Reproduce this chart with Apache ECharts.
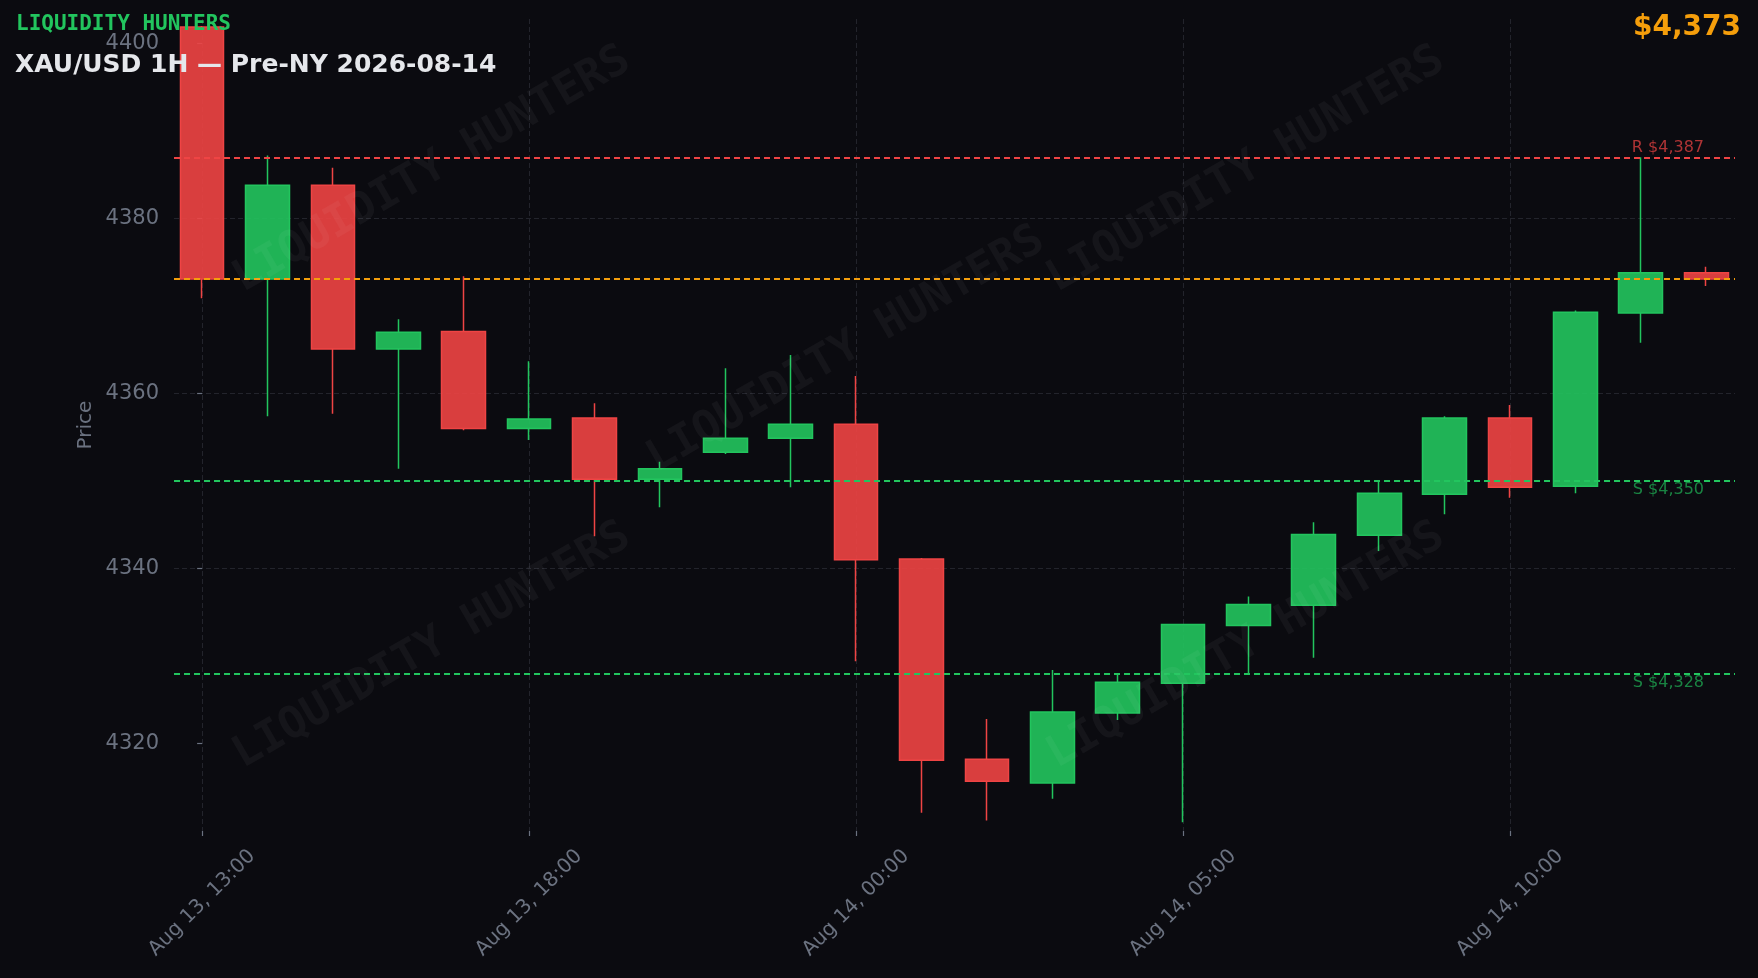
<!DOCTYPE html>
<html>
<head>
<meta charset="utf-8">
<script src="https://cdn.jsdelivr.net/npm/echarts@6/dist/echarts.min.js"></script>
<style>
  html, body { margin: 0; padding: 0; background: #0b0b10; }
  #chart { width: 1758px; height: 978px; }
</style>
</head>
<body>
<div id="chart"></div>
<script>
// ---- data ----
const categories = [
  "Aug 13, 13:00", "Aug 13, 14:00", "Aug 13, 15:00", "Aug 13, 16:00", "Aug 13, 17:00",
  "Aug 13, 18:00", "Aug 13, 19:00", "Aug 13, 20:00", "Aug 13, 21:00", "Aug 13, 23:00",
  "Aug 14, 00:00", "Aug 14, 01:00", "Aug 14, 02:00", "Aug 14, 03:00", "Aug 14, 04:00",
  "Aug 14, 05:00", "Aug 14, 06:00", "Aug 14, 07:00", "Aug 14, 08:00", "Aug 14, 09:00",
  "Aug 14, 10:00", "Aug 14, 11:00", "Aug 14, 12:00", "Aug 14, 13:00"
];
const open  = [4401.9, 4373.1, 4383.8, 4365.1, 4367.1, 4356.0, 4357.2, 4350.2, 4353.3, 4354.9,
               4356.5, 4341.1, 4318.2, 4315.5, 4323.5, 4326.9, 4333.5, 4335.8, 4343.8, 4348.5,
               4357.2, 4349.4, 4369.2, 4373.8];
const close = [4373.1, 4383.8, 4365.1, 4367.0, 4356.0, 4357.1, 4350.2, 4351.4, 4354.9, 4356.5,
               4341.0, 4318.1, 4315.7, 4323.6, 4327.0, 4333.6, 4335.9, 4343.9, 4348.6, 4357.2,
               4349.3, 4369.3, 4373.8, 4373.1];
const high  = [4402.0, 4387.2, 4385.8, 4368.5, 4373.4, 4363.7, 4358.9, 4352.2, 4362.9, 4364.4,
               4362.0, 4341.2, 4322.8, 4328.4, 4328.0, 4333.7, 4336.8, 4345.3, 4349.9, 4357.4,
               4358.7, 4369.5, 4387.0, 4374.5];
const low   = [4370.9, 4357.4, 4357.7, 4351.4, 4355.8, 4354.7, 4343.7, 4347.0, 4353.1, 4349.3,
               4329.4, 4312.1, 4311.2, 4313.7, 4322.7, 4311.0, 4327.9, 4329.8, 4342.0, 4346.2,
               4348.1, 4348.6, 4365.8, 4372.3];
const resistanceLevels = [4387];
const supportLevels = [4350, 4328];
const xTickIdx = [0, 5, 10, 15, 20];
const yTicks = [4320, 4340, 4360, 4380, 4400];
const brandText = "LIQUIDITY HUNTERS";
const titleText = "XAU/USD 1H \u2014 Pre-NY 2026-08-14";
const yAxisName = "Price";

// ---- helpers ----
function fmtPrice(v) {
  const s = String(Math.round(v));
  return s.replace(/\B(?=(\d{3})+(?!\d))/g, ",");
}
const lastClose = close[close.length - 1];

const GREEN = '#22c55e', RED = '#ef4444', ORANGE = '#f59e0b', GRAY = '#6b7280';
const candleData = categories.map((c, i) => [i, open[i], close[i], low[i], high[i]]);

const markData = [];
resistanceLevels.forEach(v => markData.push({
  yAxis: v,
  lineStyle: { color: RED, type: [6, 4], width: 1.8 },
  label: { show: true, position: 'insideEndTop', distance: [31, 1],
           formatter: 'R $' + fmtPrice(v), color: 'rgba(239,68,68,0.72)',
           fontSize: 16, fontFamily: 'DejaVu Sans' }
}));
markData.push({
  yAxis: lastClose,
  lineStyle: { color: ORANGE, type: [6, 4], width: 1.8 },
  label: { show: false }
});
supportLevels.forEach(v => markData.push({
  yAxis: v,
  lineStyle: { color: GREEN, type: [6, 4], width: 1.8 },
  label: { show: true, position: 'insideEndBottom', distance: [31, 1],
           formatter: 'S $' + fmtPrice(v), color: 'rgba(34,197,94,0.65)',
           fontSize: 16, fontFamily: 'DejaVu Sans' }
}));

const watermarkPos = [[432, 170], [1246, 170], [846, 350], [432, 646], [1246, 646]];
const watermarks = watermarkPos.map(p => ({
  type: 'text', x: p[0], y: p[1], rotation: Math.PI / 6, z: 100, silent: true,
  style: { text: brandText, font: 'bold 44px "DejaVu Sans Mono"',
           fill: 'rgba(255,255,255,0.045)', align: 'center', verticalAlign: 'middle' }
}));

const chart = echarts.init(document.getElementById('chart'), null, { renderer: 'canvas' });
chart.setOption({
  backgroundColor: '#0b0b10',
  animation: false,
  grid: { left: 174, right: 23, top: 19, bottom: 147 },
  xAxis: {
    type: 'value', min: -0.43, max: 23.44,
    axisLine: { show: false },
    axisTick: { show: true, customValues: xTickIdx, length: 5, lineStyle: { color: GRAY, width: 1.2 } },
    axisLabel: {
      customValues: xTickIdx, formatter: v => categories[v] || '',
      rotate: 45, align: 'center', verticalAlign: 'middle', margin: 72,
      color: GRAY, fontSize: 20, fontFamily: 'DejaVu Sans'
    },
    splitLine: { show: true, lineStyle: { color: '#23242c', type: [5, 3], width: 1 } }
  },
  yAxis: {
    type: 'value', min: 4310, max: 4402.8, scale: true,
    name: yAxisName, nameLocation: 'middle', nameGap: 78, nameMoveOverlap: false,
    nameTextStyle: { color: GRAY, fontSize: 20, fontFamily: 'DejaVu Sans' },
    axisLine: { show: false },
    axisTick: { show: true, customValues: yTicks, length: 5, lineStyle: { color: GRAY, width: 1.2 } },
    axisLabel: { customValues: yTicks, formatter: v => String(v), margin: 15,
                 color: GRAY, fontSize: 21, fontFamily: 'DejaVu Sans' },
    splitLine: { show: true, showMinLine: false, showMaxLine: false,
                 lineStyle: { color: '#23242c', type: [5, 3], width: 1 } }
  },
  series: [{
    type: 'candlestick',
    data: candleData,
    encode: { x: 0, y: [1, 2, 3, 4] },
    barWidth: '68%',
    itemStyle: {
      color: 'rgba(34,197,94,0.9)', color0: 'rgba(239,68,68,0.9)',
      borderColor: GREEN, borderColor0: RED, borderWidth: 1.5
    },
    markLine: { silent: true, symbol: 'none', animation: false, data: markData }
  }],
  graphic: watermarks.concat([
    { type: 'text', x: 16, y: 25, z: 110,
      style: { text: brandText, font: 'bold 21px "DejaVu Sans Mono"', fill: GREEN,
               align: 'left', verticalAlign: 'middle' } },
    { type: 'text', x: 15, y: 65, z: 110,
      style: { text: titleText, font: 'bold 25px "DejaVu Sans"', fill: '#e5e7eb',
               align: 'left', verticalAlign: 'middle' } },
    { type: 'text', x: 1741, y: 28, z: 110,
      style: { text: '$' + fmtPrice(lastClose), font: 'bold 28px "DejaVu Sans"', fill: ORANGE,
               align: 'right', verticalAlign: 'middle' } }
  ])
});
</script>
</body>
</html>
